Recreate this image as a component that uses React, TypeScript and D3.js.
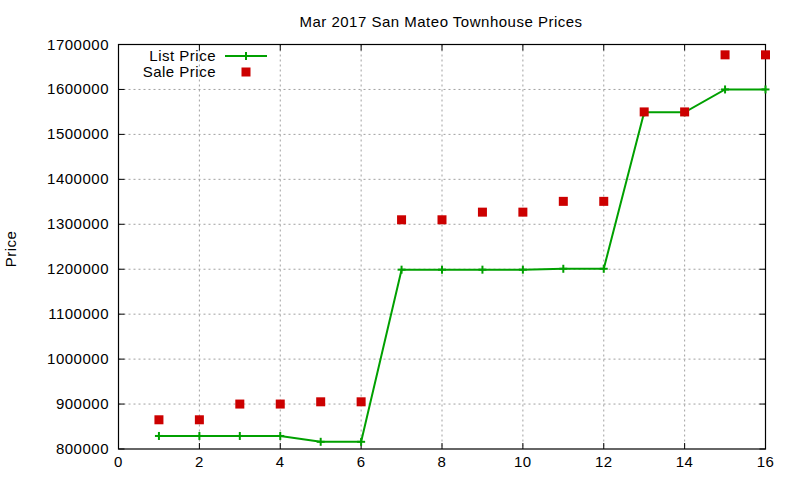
import React from "react";
import * as d3 from "d3";

const houses = [1, 2, 3, 4, 5, 6, 7, 8, 9, 10, 11, 12, 13, 14, 15, 16];
const listPrice = [829000, 829000, 829000, 829000, 816000, 816000, 1199000, 1199000, 1199000, 1199000, 1201000, 1201000, 1549000, 1549000, 1600000, 1600000];
const salePrice = [865000, 865000, 900000, 900000, 905000, 905000, 1310000, 1310000, 1327000, 1327000, 1351000, 1351000, 1550000, 1550000, 1677000, 1677000];
const xTicks = [0, 2, 4, 6, 8, 10, 12, 14, 16];
const yTicks = [800000, 900000, 1000000, 1100000, 1200000, 1300000, 1400000, 1500000, 1600000, 1700000];
const title = "Mar 2017 San Mateo Townhouse Prices";
const yLabel = "Price";
const seriesNames = ["List Price", "Sale Price"];

const W = 800, H = 480;
const L = 118.5, R = 765.5, T = 44.5, B = 449;
const GREEN = "#00a000";
const RED = "#cc0000";
const FONT: React.CSSProperties = { fontFamily: "'Liberation Sans', Arial, sans-serif", fontSize: 15, letterSpacing: 0.5 };

export default function App() {
  const x = d3.scaleLinear().domain([0, 16]).range([L, R]);
  const y = d3.scaleLinear().domain([800000, 1700000]).range([B, T]);
  const line = d3.line<number>().x((_, i) => x(houses[i])).y((d) => y(d));
  const tick = 6;
  return (
    <svg width={W} height={H} style={{ position: "absolute", left: 0, top: 0, background: "#fff" }}>
      <rect x={0} y={0} width={W} height={H} fill="#fff" />
      {xTicks.slice(1, -1).map((t) => (
        <line key={"gx" + t} x1={x(t)} x2={x(t)} y1={T} y2={B} stroke="#a0a0a0" strokeWidth={1} strokeDasharray="2,3" />
      ))}
      {yTicks.slice(1, -1).map((t) => (
        <line key={"gy" + t} x1={L} x2={R} y1={y(t)} y2={y(t)} stroke="#a0a0a0" strokeWidth={1} strokeDasharray="2,3" />
      ))}
      {xTicks.map((t) => (
        <g key={"tx" + t}>
          <line x1={x(t)} x2={x(t)} y1={B} y2={B - tick} stroke="#000" />
          <line x1={x(t)} x2={x(t)} y1={T} y2={T + tick} stroke="#000" />
          <text x={x(t)} y={467} textAnchor="middle" style={FONT}>{t}</text>
        </g>
      ))}
      {yTicks.map((t) => (
        <g key={"ty" + t}>
          <line x1={L} x2={L + tick} y1={y(t)} y2={y(t)} stroke="#000" />
          <line x1={R} x2={R - tick} y1={y(t)} y2={y(t)} stroke="#000" />
          <text x={109} y={y(t) + 5} textAnchor="end" style={FONT}>{t}</text>
        </g>
      ))}
      <rect x={L} y={T} width={R - L} height={B - T} fill="none" stroke="#000" strokeWidth={1.2} />
      <text x={441} y={27} textAnchor="middle" style={FONT}>{title}</text>
      <text transform={`translate(16,249) rotate(-90)`} textAnchor="middle" style={FONT}>{yLabel}</text>
      <path d={line(listPrice) || ""} fill="none" stroke={GREEN} strokeWidth={2} />
      {listPrice.map((v, i) => (
        <g key={"lp" + i} stroke={GREEN} strokeWidth={2}>
          <line x1={x(houses[i]) - 4} x2={x(houses[i]) + 4} y1={y(v)} y2={y(v)} />
          <line x1={x(houses[i])} x2={x(houses[i])} y1={y(v) - 4} y2={y(v) + 4} />
        </g>
      ))}
      {salePrice.map((v, i) => (
        <rect key={"sp" + i} x={x(houses[i]) - 4.5} y={y(v) - 4.5} width={9} height={9} fill={RED} />
      ))}
      <text x={216} y={61} textAnchor="end" style={FONT}>{seriesNames[0]}</text>
      <line x1={225} x2={267} y1={56} y2={56} stroke={GREEN} strokeWidth={2} />
      <line x1={246} x2={246} y1={52} y2={60} stroke={GREEN} strokeWidth={2} />
      <text x={216} y={77} textAnchor="end" style={FONT}>{seriesNames[1]}</text>
      <rect x={241.5} y={67.5} width={9} height={9} fill={RED} />
    </svg>
  );
}
